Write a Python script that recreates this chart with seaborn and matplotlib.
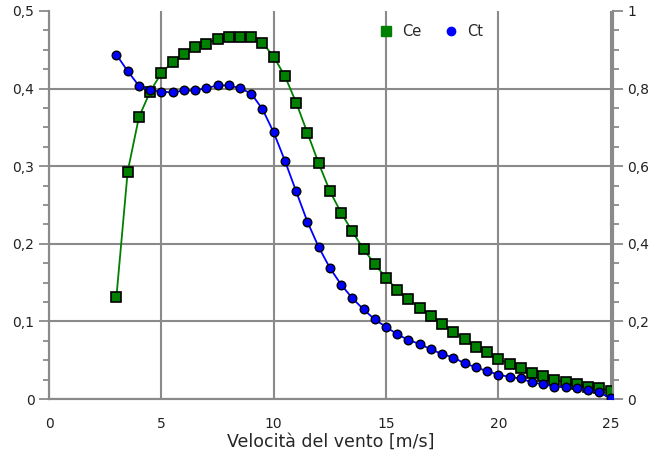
import matplotlib
matplotlib.use("Agg")
import matplotlib.pyplot as plt
from matplotlib.ticker import MultipleLocator, FuncFormatter
from matplotlib.lines import Line2D
import pandas as pd
import seaborn as sns

# wind speed [m/s]
wind_speed = [3, 3.5, 4, 4.5, 5, 5.5, 6, 6.5, 7, 7.5, 8, 8.5, 9, 9.5, 10, 10.5,
              11, 11.5, 12, 12.5, 13, 13.5, 14, 14.5, 15, 15.5, 16, 16.5, 17,
              17.5, 18, 18.5, 19, 19.5, 20, 20.5, 21, 21.5, 22, 22.5, 23, 23.5,
              24, 24.5, 25]
# Ce (left axis)
ce_values = [0.132, 0.293, 0.363, 0.396, 0.420, 0.434, 0.444, 0.454, 0.458,
             0.464, 0.467, 0.467, 0.467, 0.459, 0.441, 0.416, 0.382, 0.343,
             0.304, 0.268, 0.240, 0.216, 0.193, 0.174, 0.156, 0.141, 0.129,
             0.117, 0.107, 0.097, 0.087, 0.077, 0.067, 0.060, 0.052, 0.045,
             0.040, 0.034, 0.030, 0.025, 0.022, 0.019, 0.016, 0.014, 0.011]
# Ct (right axis)
ct_values = [0.887, 0.845, 0.807, 0.796, 0.792, 0.790, 0.795, 0.795, 0.801,
             0.808, 0.808, 0.801, 0.787, 0.747, 0.687, 0.614, 0.535, 0.457,
             0.392, 0.338, 0.295, 0.260, 0.231, 0.205, 0.186, 0.167, 0.152,
             0.142, 0.128, 0.116, 0.107, 0.092, 0.082, 0.072, 0.063, 0.057,
             0.053, 0.043, 0.038, 0.032, 0.032, 0.028, 0.023, 0.017, 0.002]

df = pd.DataFrame({"v": wind_speed, "Ce": ce_values, "Ct": ct_values})

sns.set_style("white")
plt.rcParams["font.family"] = ["DejaVu Sans"]

GRAY = "#8a8a8a"
GREEN = "#008000"
BLUE = "#0000ff"

fig = plt.figure(figsize=(6.72, 4.54), dpi=100)
ax = fig.add_axes([0.073, 0.121, 0.839, 0.855])
ax2 = ax.twinx()

sns.lineplot(data=df, x="v", y="Ce", ax=ax, color=GREEN, linewidth=1.3,
             marker="s", markersize=7.8, markerfacecolor=GREEN,
             markeredgecolor="black", markeredgewidth=1.2, zorder=3)
sns.lineplot(data=df, x="v", y="Ct", ax=ax2, color=BLUE, linewidth=1.3,
             marker="o", markersize=6.2, markerfacecolor=BLUE,
             markeredgecolor="black", markeredgewidth=1.0, zorder=3)

ax.set_xlim(0, 25.1)
ax.set_ylim(0, 0.5)
ax2.set_ylim(0, 1)

ax.xaxis.set_major_locator(MultipleLocator(5))
ax.xaxis.set_minor_locator(MultipleLocator(1.25))
ax.yaxis.set_major_locator(MultipleLocator(0.1))
ax.yaxis.set_minor_locator(MultipleLocator(0.025))
ax2.yaxis.set_major_locator(MultipleLocator(0.2))
ax2.yaxis.set_minor_locator(MultipleLocator(0.05))


def comma_fmt(val, pos):
    if abs(val) < 1e-9:
        return "0"
    if abs(val - round(val)) < 1e-9:
        return f"{int(round(val))}"
    return f"{val:.1f}".replace(".", ",")


ax.yaxis.set_major_formatter(FuncFormatter(comma_fmt))
ax2.yaxis.set_major_formatter(FuncFormatter(comma_fmt))
ax.xaxis.set_major_formatter(FuncFormatter(lambda v, p: f"{int(round(v))}"))

ax.grid(True, which="major", color=GRAY, linewidth=1.5)
ax.set_axisbelow(True)
# no grid line along the top edge
for tick in ax.yaxis.get_major_ticks():
    if abs(tick.get_loc() - 0.5) < 1e-9:
        tick.gridline.set_visible(False)

for a in (ax, ax2):
    a.spines["top"].set_visible(False)
    for side in ("left", "right", "bottom"):
        a.spines[side].set_color(GRAY)
        a.spines[side].set_linewidth(1.5)
    a.tick_params(which="major", direction="out", length=7, width=1.3,
                  color=GRAY, labelsize=10, labelcolor="#222222")
    a.tick_params(which="minor", direction="out", length=4, width=1.3,
                  color=GRAY)
ax.tick_params(axis="x", pad=6)

ax.set_ylabel("")
ax2.set_ylabel("")
ax.set_xlabel("Velocità del vento [m/s]", fontsize=12.5, labelpad=1)

handles = [
    Line2D([], [], linestyle="none", marker="s", markersize=7,
           markerfacecolor=GREEN, markeredgecolor=GREEN),
    Line2D([], [], linestyle="none", marker="o", markersize=6,
           markerfacecolor=BLUE, markeredgecolor=BLUE),
]
ax2.legend(handles, ["Ce", "Ct"], loc="center left",
           bbox_to_anchor=(0.562, 0.946), ncol=2, frameon=False,
           fontsize=10.5, handletextpad=0.6, columnspacing=1.5,
           handlelength=1.0)

fig.savefig("out.png", dpi=100)
